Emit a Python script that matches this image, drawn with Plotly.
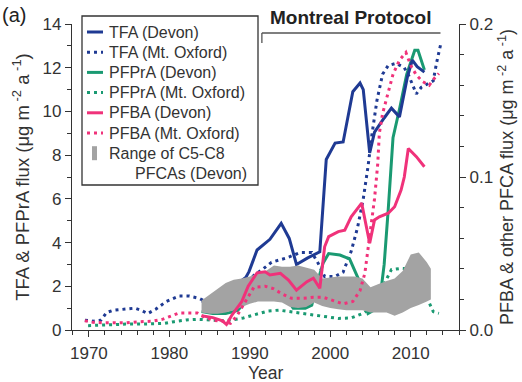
import plotly.graph_objects as go

# ---------------- data ----------------
# Left axis: TFA & PFPrA flux (ug m-2 a-1)
tfa_devon_year = [1984.0, 1985.0, 1985.8, 1987.0, 1988.2, 1989.5, 1989.9, 1990.9, 1992.5, 1993.9,
                  1994.9, 1995.8, 1997.2, 1998.7, 1999.5, 2000.6, 2001.6, 2002.8, 2003.7, 2004.1,
                  2004.9, 2005.5, 2006.7, 2007.6, 2008.6, 2009.6, 2010.2, 2010.8, 2011.7]
tfa_devon_val = [1.3, 1.35, 1.6, 1.95, 2.05, 2.4, 2.67, 3.66, 4.15, 4.88,
                 4.19, 3.0, 3.3, 3.58, 7.8, 8.55, 8.6, 10.9, 11.3, 11.0,
                 8.1, 9.05, 9.7, 10.15, 9.75, 11.6, 12.35, 12.05, 11.8]

tfa_oxford_year = [1969.5, 1970.5, 1971.5, 1972.2, 1973.0, 1974.6, 1975.7, 1976.5, 1977.3, 1978.3,
                   1979.6, 1981.2, 1982.5, 1983.7, 1984.5, 1985.8, 1986.6, 1987.6, 1988.5, 1989.5,
                   1990.5, 1991.5, 1992.7, 1994.6, 1996.3, 1997.7, 1998.5, 1999.3, 2000.6, 2001.6,
                   2002.6, 2003.4, 2004.1, 2004.7, 2005.2, 2005.8, 2006.5, 2007.2, 2008.2, 2009.2,
                   2009.8, 2010.7, 2011.3, 2012.3, 2012.8, 2013.2, 2013.8]
tfa_oxford_val = [0.45, 0.4, 0.45, 0.8, 0.9, 0.95, 1.0, 0.9, 0.75, 0.95,
                  1.3, 1.55, 1.55, 1.45, 1.3, 1.1, 0.95, 1.1, 1.5, 2.1,
                  2.5, 2.75, 3.1, 3.3, 3.55, 3.55, 3.05, 2.45, 2.45, 2.65,
                  3.6, 4.7, 6.0, 7.5, 9.0, 10.5, 11.7, 12.1, 12.2, 12.0,
                  11.6, 10.8, 11.1, 11.3, 11.4, 12.2, 13.2]

pfpra_devon_year = [1984.0, 1985.4, 1987.0, 1988.5, 1989.7, 1991.0, 1992.5, 1993.8, 1994.4, 1995.4,
                    1996.9, 1997.7, 1998.5, 1999.1, 1999.8, 2001.2, 2002.4, 2003.0, 2003.9, 2004.7,
                    2005.6, 2006.1, 2006.7, 2007.2, 2007.8, 2008.6, 2009.5, 2010.5, 2010.9, 2011.7]
pfpra_devon_val = [0.85, 0.75, 0.75, 0.9, 1.4, 1.6, 1.63, 1.68, 1.53, 1.0,
                   1.0, 1.14, 2.3, 3.05, 3.5, 3.43, 3.25, 2.75, 2.0, 0.76,
                   0.95, 1.2, 3.0, 5.5, 8.8, 10.1, 11.7, 12.8, 12.8, 11.9]

pfpra_oxford_year = [1969.9, 1971.4, 1973.0, 1974.6, 1976.3, 1977.9, 1979.4, 1980.6, 1982.1, 1983.5,
                     1984.7, 1986.2, 1987.8, 1989.2, 1990.6, 1992.3, 1993.6, 1995.0, 1996.9, 1998.9,
                     2001.0, 2002.6, 2004.2, 2005.7, 2006.4, 2007.6, 2008.8, 2009.8, 2010.8, 2011.6,
                     2012.3, 2012.8, 2013.5]
pfpra_oxford_val = [0.2, 0.23, 0.27, 0.27, 0.27, 0.27, 0.3, 0.38, 0.46, 0.49,
                    0.46, 0.43, 0.46, 0.55, 0.7, 0.87, 0.91, 0.84, 0.76, 0.64,
                    0.53, 0.55, 0.78, 1.22, 1.9, 2.76, 2.82, 2.8, 2.65, 2.1,
                    1.25, 0.84, 0.76]

# Right axis: PFBA & other PFCA flux (ug m-2 a-1)
pfba_devon_year = [1984.0, 1985.4, 1986.6, 1987.1, 1987.8, 1989.0, 1989.8, 1990.9, 1991.9, 1992.5,
                   1993.8, 1994.8, 1995.8, 1997.1, 1997.9, 1998.7, 1999.3, 1999.8, 2001.0, 2001.8,
                   2002.6, 2003.9, 2004.9, 2005.5, 2006.1, 2007.2, 2008.0, 2008.8, 2009.2, 2009.7,
                   2010.7, 2011.7]
pfba_devon_val = [0.0093, 0.0081, 0.0060, 0.0036, 0.0099, 0.0186, 0.0286, 0.0374, 0.0381, 0.0360,
                  0.0370, 0.0327, 0.0261, 0.0316, 0.0339, 0.0273, 0.0544, 0.0610, 0.0643, 0.0653,
                  0.0740, 0.0829, 0.0567, 0.0719, 0.0740, 0.0763, 0.0806, 0.0914, 0.1000, 0.1186,
                  0.1133, 0.1067]

pfba_oxford_year = [1969.5, 1970.5, 1971.8, 1973.0, 1974.6, 1976.3, 1977.9, 1979.2, 1980.2, 1981.2,
                    1982.5, 1983.5, 1984.3, 1985.4, 1986.6, 1987.6, 1988.4, 1989.4, 1990.5, 1991.9,
                    1992.9, 1994.0, 1995.2, 1996.7, 1997.9, 1999.1, 2000.4, 2001.6, 2002.8, 2003.7,
                    2004.3, 2004.7, 2005.1, 2005.5, 2005.9, 2006.1, 2006.5, 2007.2, 2007.8, 2008.6,
                    2009.4, 2010.0, 2010.7, 2011.5, 2012.3, 2012.9, 2013.5]
pfba_oxford_val = [0.0060, 0.0050, 0.0047, 0.0046, 0.0047, 0.0054, 0.0057, 0.0071, 0.0093, 0.0111,
                   0.0111, 0.0111, 0.0086, 0.0064, 0.0057, 0.0043, 0.0093, 0.0186, 0.0279, 0.0286,
                   0.0271, 0.0236, 0.0207, 0.0207, 0.0214, 0.0214, 0.0193, 0.0171, 0.0186, 0.0257,
                   0.0371, 0.0543, 0.0714, 0.0857, 0.1086, 0.1286, 0.1414, 0.1557, 0.1671, 0.1764,
                   0.1814, 0.1729, 0.1666, 0.1623, 0.1600, 0.1643, 0.1677]

range_year = [1984, 1985, 1986, 1987, 1988, 1989, 1990, 1991, 1992, 1993,
              1994, 1995, 1996, 1997, 1998, 1999, 2000, 2001, 2002, 2003,
              2004, 2005, 2006, 2007, 2008, 2009, 2010, 2011, 2012, 2012.5]
range_upper = [0.0193, 0.0229, 0.0271, 0.0307, 0.0329, 0.0336, 0.0350, 0.0371, 0.0386, 0.0421,
               0.0414, 0.0414, 0.0421, 0.0407, 0.0393, 0.0336, 0.0343, 0.0350, 0.0350, 0.0350,
               0.0336, 0.0279, 0.0300, 0.0321, 0.0336, 0.0386, 0.0493, 0.0507, 0.0443, 0.0400]
range_lower = [0.0114, 0.0107, 0.0107, 0.0114, 0.0129, 0.0150, 0.0171, 0.0186, 0.0186, 0.0186,
               0.0179, 0.0150, 0.0143, 0.0150, 0.0179, 0.0157, 0.0143, 0.0136, 0.0129, 0.0129,
               0.0129, 0.0114, 0.0114, 0.0114, 0.0093, 0.0114, 0.0143, 0.0164, 0.0186, 0.0200]

montreal_start, montreal_end = 1991.5, 2013.7

legend_labels = ["TFA (Devon)", "TFA (Mt. Oxford)", "PFPrA (Devon)", "PFPrA (Mt. Oxford)",
                 "PFBA (Devon)", "PFBA (Mt. Oxford)", "Range of C5-C8", "PFCAs (Devon)"]

# ---------------- style ----------------
NAVY = "#1f3a93"
GREEN = "#1a9a72"
PINK = "#f0327a"
GRAY = "#a3a3a3"
FONT = "Liberation Sans, Arial, sans-serif"
DOT = "3px,4px"
W, H = 522, 382
ML, MR, MT, MB = 72, 63, 24, 52
PW, PH = W - ML - MR, H - MT - MB


def px(x):
    return (x - ML) / PW


def py(y):
    return (H - MB - y) / PH


fig = go.Figure()

fig.add_trace(go.Scatter(
    x=range_year + range_year[::-1], y=range_upper + range_lower[::-1],
    fill="toself", fillcolor=GRAY, line=dict(width=0), mode="lines",
    name="Range of C5-C8 PFCAs (Devon)", yaxis="y2"))

series = [
    (pfba_oxford_year, pfba_oxford_val, PINK, DOT, "PFBA (Mt. Oxford)", "y2"),
    (pfpra_oxford_year, pfpra_oxford_val, GREEN, DOT, "PFPrA (Mt. Oxford)", "y"),
    (tfa_oxford_year, tfa_oxford_val, NAVY, DOT, "TFA (Mt. Oxford)", "y"),
    (pfba_devon_year, pfba_devon_val, PINK, "solid", "PFBA (Devon)", "y2"),
    (pfpra_devon_year, pfpra_devon_val, GREEN, "solid", "PFPrA (Devon)", "y"),
    (tfa_devon_year, tfa_devon_val, NAVY, "solid", "TFA (Devon)", "y"),
]
for xs, ys, col, dash, name, ax in series:
    fig.add_trace(go.Scatter(x=xs, y=ys, mode="lines", name=name, yaxis=ax,
                             line=dict(color=col, width=3, dash=dash)))

axis_common = dict(showline=True, linecolor="#333", linewidth=1.3, ticks="outside",
                   tickcolor="#333", ticklen=6, showgrid=False, zeroline=False,
                   automargin=False,
                   tickfont=dict(size=17, color="#333", family=FONT))

fig.update_layout(
    width=W, height=H,
    margin=dict(l=ML, r=MR, t=MT, b=MB),
    paper_bgcolor="white", plot_bgcolor="white",
    font=dict(family=FONT, size=16, color="#333"),
    showlegend=False,
    xaxis=dict(range=[1967.9, 2016.0], tickvals=[1970, 1980, 1990, 2000, 2010],
               minor=dict(dtick=2, tick0=1970, ticks="outside", ticklen=4, tickcolor="#333"),
               ticklabelstandoff=1, **axis_common),
    yaxis=dict(range=[0, 14], dtick=2,
               minor=dict(dtick=1, ticks="outside", ticklen=4, tickcolor="#333"),
               title=dict(text="TFA & PFPrA flux (μg m<sup> -2</sup> a<sup> -1</sup>)",
                          standoff=8, font=dict(size=18.5)),
               **axis_common),
    yaxis2=dict(range=[0, 0.2], dtick=0.1, tickformat=".1f", overlaying="y", side="right",
                minor=dict(dtick=0.02, ticks="outside", ticklen=4, tickcolor="#333"),
                title=dict(text="PFBA & other PFCA flux (μg m<sup> -2</sup> a<sup> -1</sup>)",
                           standoff=8, font=dict(size=18)),
                **axis_common),
)

# x-axis title
fig.add_annotation(x=0.5, y=py(373), xref="paper", yref="paper", xanchor="center",
                   yanchor="middle", text="Year", showarrow=False,
                   font=dict(size=17.5, family=FONT, color="#333"))

# ---------- hand-built legend box (matches the reference's compact legend) ----------
fig.add_shape(type="rect", xref="paper", yref="paper", x0=px(82), x1=px(258), y0=py(185), y1=py(16),
              line=dict(color="#333", width=1.3), fillcolor="white", layer="above")
styles = [(NAVY, "solid"), (NAVY, "dot"), (GREEN, "solid"), (GREEN, "dot"),
          (PINK, "solid"), (PINK, "dot")]
row_y = [32 + i * 20.2 for i in range(8)]
for i, (col, dash) in enumerate(styles):
    fig.add_shape(type="line", xref="paper", yref="paper", x0=px(87), x1=px(103),
                  y0=py(row_y[i]), y1=py(row_y[i]),
                  line=dict(color=col, width=3, dash=("3px,4px" if dash == "dot" else "solid")),
                  layer="above")
fig.add_shape(type="rect", xref="paper", yref="paper", x0=px(92), x1=px(97),
              y0=py(row_y[6] + 7), y1=py(row_y[6] - 7), line=dict(width=0),
              fillcolor=GRAY, layer="above")
for i, lab in enumerate(legend_labels):
    fig.add_annotation(x=px(107 if i < 7 else 133), y=py(row_y[i]), xref="paper", yref="paper",
                       xanchor="left", yanchor="middle", text=lab, showarrow=False,
                       font=dict(size=16, family=FONT, color="#333"))

# Montreal Protocol bracket
fig.add_shape(type="line", xref="x", yref="paper", x0=montreal_start, x1=montreal_end,
              y0=py(33), y1=py(33), line=dict(color="#555", width=1.3))
fig.add_shape(type="line", xref="x", yref="paper", x0=montreal_start, x1=montreal_start,
              y0=py(33), y1=py(43), line=dict(color="#555", width=1.3))
fig.add_annotation(x=(montreal_start + montreal_end) / 2, y=py(30), xref="x", yref="paper",
                   text="<b>Montreal Protocol</b>", showarrow=False, yanchor="bottom",
                   font=dict(size=19, family=FONT, color="#222"))
fig.add_annotation(x=px(0), y=py(2), xref="paper", yref="paper", xanchor="left", yanchor="top",
                   text="(a)", showarrow=False, font=dict(size=20, family=FONT, color="#222"))

fig.write_html("out.html")
